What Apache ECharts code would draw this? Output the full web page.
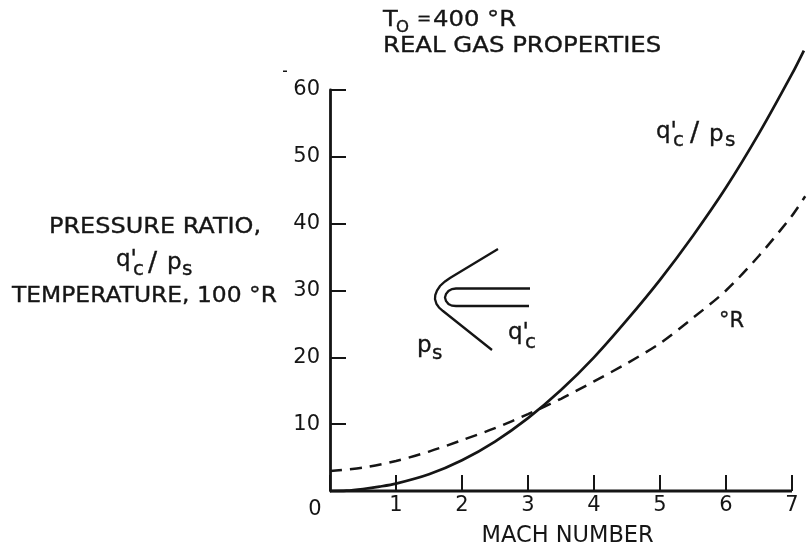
<!DOCTYPE html>
<html><head><meta charset="utf-8">
<style>html,body{margin:0;padding:0;background:#fff}#c{width:807px;height:546px}</style>
<script src="https://cdn.jsdelivr.net/npm/echarts@6/dist/echarts.min.js"></script>
</head><body><div id="c"></div>
<script>
const machTicks = [0,1,2,3,4,5,6,7];
const yTicks = ['', '10','20','30','40','50','60'];
const pressureMach = [0,0.25,0.5,0.75,1,1.5,2,2.5,3,3.5,4,4.5,5,5.5,6,6.5,7,7.18];
const pressureRatio = [0,0.05,0.3,0.65,1.1,2.5,4.6,7.4,10.9,15.1,20,25.6,31.6,38.2,45.4,53.5,62.4,65.9];
const tempMach = [0,0.5,1,1.5,2,2.5,3,3.5,4,4.5,5,5.5,6,6.5,7,7.2];
const temperature = [3,3.5,4.5,5.9,7.6,9.4,11.5,13.8,16.4,19.1,22.1,25.9,30,35.2,41.2,44.1];
const baselineMach = [0,7];
const baselineValue = [0,0];

const INK = '#151515', F = '"DejaVu Sans"';
const zip = (a,b) => a.map((v,i) => [v,b[i]]);
const txt = (x,y,text,size,sx) => ({type:'text',x,y,scaleX:sx||1,silent:true,style:{text,fill:INK,stroke:INK,lineWidth:0.35,font:`${size}px ${F}`,textAlign:'left',textVerticalAlign:'middle'}});
const stroke = {stroke:INK,lineWidth:2.3,fill:'none'};
const outerProbe = [[498,249],[450,278],[445,281.5],[440,286],[437,290.5],[435.3,295],[435,299],[436.5,304],[439,307.5],[443,311],[492,350]];
const innerProbe = [[530,288.5],[456,288.5],[452,289],[448.5,291],[446,294],[445,297.5],[446,301],[448.5,304],[452,305.7],[456,306],[529,306]];

const chart = echarts.init(document.getElementById('c'));
chart.setOption({
  animation:false, backgroundColor:'#fff',
  grid:{left:330,right:1.8,top:90,bottom:55,outerBoundsMode:'none'},
  xAxis:{type:'value',min:0,max:7.2,
    axisLine:{show:false},
    axisTick:{show:true,inside:true,length:16,customValues:machTicks,lineStyle:{color:INK,width:2}},
    splitLine:{show:false},
    axisLabel:{margin:4,color:INK,fontFamily:F,fontSize:21,customValues:machTicks,hideOverlap:false,
      formatter:v=> v===0 ? '{z|0}' : String(v),
      rich:{z:{fontFamily:F,fontSize:21,color:INK,padding:[4,30,0,0]}}},
    name:'MACH NUMBER',nameLocation:'middle',nameGap:26,
    nameTextStyle:{color:INK,fontFamily:F,fontSize:22.5}},
  yAxis:{type:'value',min:0,max:60,interval:10,
    axisLine:{onZero:false,lineStyle:{color:INK,width:2.8}},
    axisTick:{inside:true,length:16,lineStyle:{color:INK,width:2}},
    splitLine:{show:false},
    axisLabel:{margin:10,color:INK,fontFamily:F,fontSize:21,padding:[3,0,0,0],formatter:v=>yTicks[v/10]}},
  series:[
    {type:'line',name:'axis',data:zip(baselineMach,baselineValue),showSymbol:false,clip:false,
      lineStyle:{color:INK,width:2.8}},
    {type:'line',name:"q'c/ps",data:zip(pressureMach,pressureRatio),smooth:0.3,showSymbol:false,clip:false,
      lineStyle:{color:INK,width:2.7}},
    {type:'line',name:'°R',data:zip(tempMach,temperature),smooth:0.3,showSymbol:false,clip:false,
      lineStyle:{color:INK,width:2.5,type:[12,8]}}
  ],
  graphic:[
    txt(383,20,'T',21.5,1.12), txt(396,28,'O',15,1.1), txt(417,20,'=',17,1), txt(433,20,'400 °R',21.5,1.13),
    txt(383,46,'REAL GAS PROPERTIES',21.5,1.134),
    txt(49,227,'PRESSURE RATIO,',21.5,1.115),
    txt(12,296,'TEMPERATURE, 100 °R',21.5,1.088),
    txt(116,260,"q'",23), txt(133,270,'c',20), txt(148,264,'/',27), txt(167,263,'p',23), txt(182,270,'s',20),
    txt(656,132,"q'",23), txt(673,141,'c',20), txt(690,134,'/',27), txt(709,135,'p',23), txt(725,141,'s',20),
    txt(719,322,'°R',21,1),
    txt(508,333,"q'",23), txt(525,343,'c',20),
    txt(417,346,'p',23), txt(432,354,'s',20),
    {type:'polyline',silent:true,shape:{points:outerProbe},style:stroke},
    {type:'polyline',silent:true,shape:{points:innerProbe},style:stroke},
    {type:'rect',silent:true,shape:{x:283,y:70.5,width:4,height:1.5},style:{fill:INK}}
  ]
});
</script></body></html>
